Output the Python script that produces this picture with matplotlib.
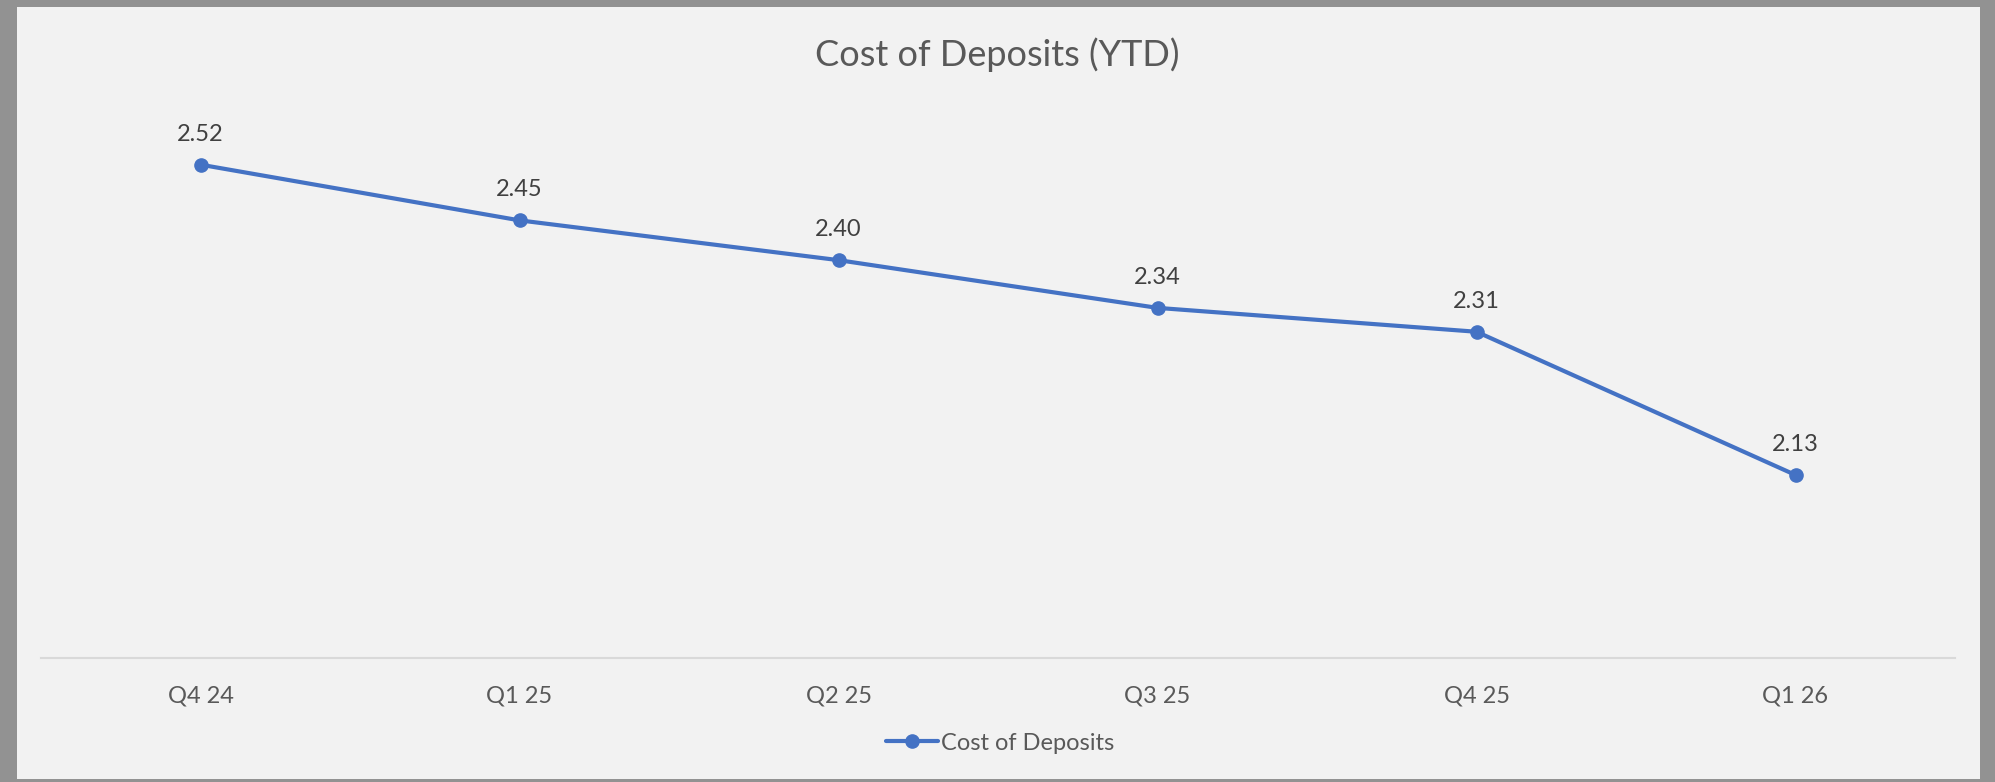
import matplotlib
matplotlib.use("Agg")
import matplotlib.pyplot as plt
from matplotlib.patches import Rectangle

# Quarter labels and cost of deposits (%)
quarters = ["Q4 24", "Q1 25", "Q2 25", "Q3 25", "Q4 25", "Q1 26"]
costOfDeposits = [2.52, 2.45, 2.40, 2.34, 2.31, 2.13]

lineColor = "#4472C4"
W, H = 1995, 782

plt.rcParams['font.family'] = ['Lato', 'DejaVu Sans']

fig = plt.figure(figsize=(W / 100, H / 100), dpi=100)
fig.patch.set_facecolor("#929292")

# inner chart panel, leaves the grey frame around it
fig.patches.append(Rectangle((17 / W, 3 / H), (1980 - 17) / W, (779 - 7) / H,
                             transform=fig.transFigure, facecolor="#f2f2f2",
                             edgecolor="none", zorder=-5))

ax = fig.add_axes([41 / W, (H - 658) / H, (1955 - 41) / W, (658 - 101) / H])
ax.set_facecolor("none")
ax.set_zorder(2)

x = list(range(len(quarters)))
ax.plot(x, costOfDeposits, color=lineColor, linewidth=3, marker="o",
        markersize=9.5, label="Cost of Deposits", solid_capstyle="round")

# data labels above each point
for i, v in enumerate(costOfDeposits):
    ax.annotate(f"{v:.2f}", (i, v), xytext=(0, 22), textcoords="offset points",
                ha="center", va="center", fontsize=17, color="#404040")

ax.set_xlim(-0.5, len(quarters) - 0.5)
ax.set_ylim(1.9, 2.6)
ax.set_xticks(x)
ax.set_xticklabels(quarters, fontsize=17, color="#595959")
ax.tick_params(axis="x", length=0, pad=20)
ax.set_yticks([])

for side in ["top", "right", "left"]:
    ax.spines[side].set_visible(False)
ax.spines["bottom"].set_color("#d9d9d9")
ax.spines["bottom"].set_linewidth(1.5)

fig.text(997 / W, 1 - 55 / H, "Cost of Deposits (YTD)", ha="center", va="center",
         fontsize=26, color="#595959")

fig.legend(loc="center", bbox_to_anchor=(1000 / W, 1 - 743 / H), frameon=False,
           fontsize=17, labelcolor="#595959", handlelength=2.2, handletextpad=0.1)

fig.savefig("out.png", dpi=100, facecolor=fig.get_facecolor())
